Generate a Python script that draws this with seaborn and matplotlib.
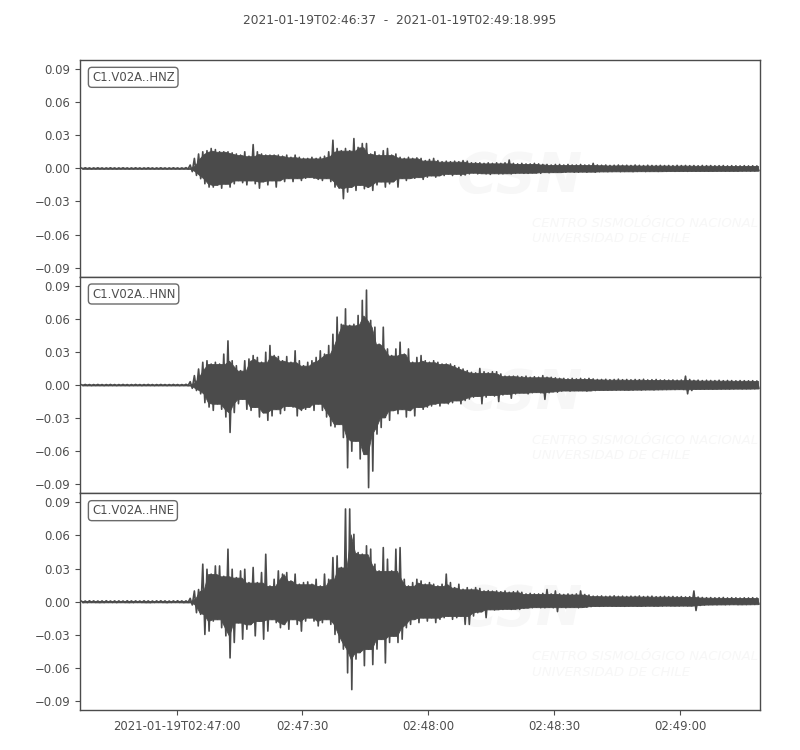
import numpy as np
import pandas as pd
import matplotlib
matplotlib.use("Agg")
import matplotlib.pyplot as plt
import seaborn as sns

# ---------------- data (values in units of 0.001, one min/max pair per second from 02:46:37) --------------
TITLE = "2021-01-19T02:46:37  -  2021-01-19T02:49:18.995"
CHANNELS = ["C1.V02A..HNZ", "C1.V02A..HNN", "C1.V02A..HNE"]
UNIT_SCALE = 0.001

HNZ_MAX = [0.4, 0.5, 0.4, 0.4, 0.5, 0.4, 0.4, 0.5, 0.4, 0.4,
           0.5, 0.4, 0.4, 0.5, 0.4, 0.4, 0.5, 0.4, 0.4, 0.5,
           0.4, 0.4, 0.5, 0.4, 0.4, 0.6, 3, 9, 13, 15,
           16, 18, 17, 15, 15, 15, 14, 13, 12, 15,
           11, 21.5, 15, 13, 12, 12, 12, 12, 11, 12,
           10, 12, 10, 9, 9, 10, 9, 10, 11, 15,
           25.5, 18, 16, 18, 16, 27, 19, 22.5, 22.5, 13,
           15, 12, 16, 18, 12, 13, 10, 9, 10, 9,
           9.5, 9, 7, 8, 9, 7, 6, 6.5, 6, 6.5,
           6, 7, 6.5, 5, 5, 5, 4.5, 5, 4.5, 5,
           4.5, 5, 7.5, 4.5, 4, 4.5, 4, 4, 4.5, 4,
           3.5, 3.5, 3, 3.5, 3.5, 3, 3.5, 3, 3, 3.5,
           3, 3, 4.5, 3, 2.8, 3, 2.6, 2.8, 3, 2.7,
           2.8, 2.6, 3, 2.7, 2.5, 2.8, 2.6, 2.5, 2.7, 2.5,
           2.6, 2.4, 2.7, 2.5, 2.6, 2.4, 2.5, 2.3, 2.6, 2.4,
           2.5, 2.3, 2.4, 2.5, 2.2, 2.4, 2.3, 2.2, 2.4, 2.2,
           2.3, 2.2]
HNZ_MIN = [-0.4, -0.4, -0.5, -0.4, -0.4, -0.5, -0.4, -0.4, -0.5, -0.4,
           -0.4, -0.5, -0.4, -0.4, -0.5, -0.4, -0.4, -0.5, -0.4, -0.4,
           -0.5, -0.4, -0.4, -0.5, -0.4, -0.6, -3, -6.4, -9.4, -14,
           -17, -17, -15, -18, -14, -17, -14, -11, -13, -15,
           -11, -14, -18, -12, -15, -11, -17, -11, -12, -9,
           -12, -9, -11, -9, -8, -9, -10, -11, -9, -12,
           -17, -18, -27.5, -21.5, -17, -20, -15, -18.5, -17, -20,
           -15, -12, -17, -14, -12, -17, -9, -11, -9, -9,
           -8, -10, -8, -6.5, -8, -6.5, -6.5, -5, -6.5, -5,
           -6.5, -6, -5, -4, -5, -4.5, -5, -5.5, -4.5, -5,
           -5, -4.5, -5, -4.5, -4, -4.5, -4.5, -4, -4, -4.5,
           -3.5, -4, -3.5, -3.5, -3.5, -3.5, -3, -3.5, -3.5, -3,
           -3.5, -3, -3.5, -3, -2.8, -3, -2.9, -2.7, -3, -2.8,
           -2.7, -3, -2.8, -2.6, -2.9, -2.7, -2.6, -2.8, -2.6, -2.7,
           -2.5, -2.7, -2.6, -2.5, -2.7, -2.4, -2.6, -2.5, -2.4, -2.6,
           -2.4, -2.5, -2.3, -2.5, -2.4, -2.3, -2.5, -2.3, -2.2, -2.4,
           -2.3, -2.2]

HNN_MAX = [0.4, 0.5, 0.4, 0.4, 0.5, 0.4, 0.4, 0.5, 0.4, 0.4,
           0.5, 0.4, 0.4, 0.5, 0.4, 0.4, 0.5, 0.4, 0.4, 0.5,
           0.4, 0.4, 0.5, 0.4, 0.4, 0.6, 3, 8.5, 14.5, 20.6,
           22, 19, 20.6, 19, 28, 40, 22, 17.5, 13, 22,
           23.6, 26.7, 25, 20.6, 29.7, 35.8, 26.7, 25.8, 22, 25.8,
           20.6, 31, 22, 17.5, 20.6, 22, 25, 31, 28, 35.8,
           46, 61.5, 55, 69, 54, 55, 63, 76.7, 86, 58.5,
           52.4, 37, 52.4, 32.7, 26.7, 32.7, 38.8, 28, 32.7, 20.6,
           25, 26.7, 22, 20.6, 22, 20.6, 19, 19, 19, 17.5,
           16, 14.5, 13, 11.5, 11, 15, 12, 11, 12, 12,
           10, 8, 8, 8, 8, 7.5, 8, 7, 7.5, 7,
           8.5, 7, 7, 6.5, 6, 6, 5.5, 6, 5.5, 6,
           5.5, 6, 5.5, 5, 5, 5.2, 4.8, 5, 5.3, 4.8,
           5, 4.7, 5, 4.8, 5.2, 4.6, 4.8, 5, 4.5, 4.6,
           4.4, 4.6, 4.3, 4.5, 8, 5, 4.2, 4.4, 4, 4.3,
           4.1, 4, 4.3, 3.9, 4.1, 4, 3.8, 4, 3.9, 3.8,
           3.9, 3.7]
HNN_MIN = [-0.4, -0.4, -0.5, -0.4, -0.4, -0.5, -0.4, -0.4, -0.5, -0.4,
           -0.4, -0.5, -0.4, -0.4, -0.5, -0.4, -0.4, -0.5, -0.4, -0.4,
           -0.5, -0.4, -0.4, -0.5, -0.4, -0.6, -3, -5, -8, -16,
           -20, -23, -17, -22, -29, -43, -25, -17, -12.7, -22,
           -23, -20, -29, -25, -32, -28, -22, -26, -23, -19,
           -20, -28, -23, -22, -20, -23, -17, -23, -29, -37,
           -38, -35.5, -47.6, -75, -60, -50.6, -67, -62.7, -93, -78,
           -44.5, -38.5, -29.4, -32, -23, -26, -22, -29, -23, -28,
           -20, -22, -20, -19, -17, -19, -16, -17, -16, -14,
           -17, -14, -12.7, -11, -10, -17, -11, -9, -10, -15,
           -9, -8, -12, -8, -7, -7, -8, -7, -6.5, -7,
           -13, -7, -6, -6.5, -5.5, -5, -5.5, -5, -5, -5,
           -5.5, -5, -5, -4.5, -4.5, -4.7, -4.4, -4.6, -4.3, -4.5,
           -4.4, -4.6, -4.2, -4.5, -4.3, -4.1, -4.4, -4.2, -4, -4.1,
           -3.9, -4.1, -3.8, -4, -8, -5, -3.8, -3.6, -3.8, -3.5,
           -3.7, -3.5, -3.6, -3.4, -3.6, -3.5, -3.3, -3.5, -3.4, -3.3,
           -3.4, -3.2]

HNE_MAX = [0.7, 0.6, 0.8, 0.7, 0.6, 0.7, 0.8, 0.6, 0.7, 0.7,
           0.6, 0.8, 0.7, 0.7, 0.6, 0.8, 0.7, 0.6, 0.7, 0.8,
           0.7, 0.6, 0.7, 0.8, 0.7, 0.7, 3, 9.7, 11, 34,
           29.4, 25, 32.4, 32.4, 23, 47.6, 29.4, 21.8, 27.9, 29.4,
           17.3, 31, 17.3, 26.4, 43, 14.2, 20.3, 27.9, 25, 26.4,
           18.8, 25, 15.8, 17.3, 17.9, 15.8, 20.3, 14.2, 25, 20.3,
           40, 41.5, 31, 84, 84, 61, 44.5, 43, 50.6, 47.6,
           34, 27.9, 49, 38.5, 27.9, 47.6, 49, 20.3, 14.2, 17.3,
           20.3, 18.8, 15.8, 17.3, 15.8, 14.2, 15.8, 25, 17.3, 12.7,
           15.8, 11.2, 12.7, 11.2, 12.7, 12, 9.7, 10, 9.5, 9.7,
           9, 9.7, 8.5, 9, 9.5, 8.5, 7, 7.5, 7, 7,
           7.5, 11, 7, 9.7, 7, 6.5, 7, 6.5, 7, 9.7,
           6.5, 6, 5, 5, 5.2, 4.8, 5, 5.3, 4.8, 5,
           4.7, 5, 4.8, 5.2, 4.6, 4.8, 5, 4.5, 4.6, 4.8,
           4.5, 4.7, 4.4, 4.6, 4.3, 4.5, 9.7, 4.2, 3.8, 3.6,
           3.7, 3.5, 3.6, 3.8, 3.4, 3.6, 3.5, 3.3, 3.5, 3.4,
           3.6, 3.3]
HNE_MIN = [-0.7, -0.8, -0.6, -0.7, -0.7, -0.8, -0.6, -0.7, -0.8, -0.6,
           -0.7, -0.7, -0.8, -0.6, -0.7, -0.7, -0.8, -0.7, -0.6, -0.7,
           -0.8, -0.7, -0.6, -0.7, -0.8, -0.7, -3, -10, -11.5, -29.7,
           -26.7, -17.6, -16, -23.6, -31, -51, -37, -19, -34, -25,
           -20.6, -31, -17.6, -34, -26.7, -16, -19, -23.6, -20.6, -25,
           -16, -20.6, -26.7, -17.6, -14.5, -17.6, -22, -19, -16, -20.6,
           -29.7, -37, -43, -64.5, -79.7, -52, -46, -58, -43, -57,
           -43, -34, -55.5, -37, -31, -37, -34, -23.6, -20.6, -16,
           -19, -14.5, -17.6, -14.5, -19, -16, -14.5, -13, -16, -14.5,
           -13, -20.6, -20.6, -13, -10, -9, -14.5, -7, -7.5, -7,
           -7, -6.5, -7, -6.5, -7, -6, -5.5, -5.5, -5, -5.5,
           -5.5, -5, -5.5, -9, -5, -5.5, -5, -5, -5.5, -5,
           -5, -4.5, -4, -4.2, -4, -3.8, -4.1, -4, -3.9, -4.2,
           -4, -3.8, -4.1, -3.9, -4, -3.7, -4, -3.8, -3.9, -3.6,
           -3.8, -3.7, -3.9, -3.6, -3.8, -3.7, -8, -3.4, -3, -2.7,
           -2.6, -2.8, -2.5, -2.7, -2.6, -2.4, -2.7, -2.5, -2.6, -2.4,
           -2.5, -2.3]

TRACE_MAX = [HNZ_MAX, HNN_MAX, HNE_MAX]
TRACE_MIN = [HNZ_MIN, HNN_MIN, HNE_MIN]

XTICK_SECONDS = [23, 53, 83, 113, 143]
XTICK_LABELS = ["2021-01-19T02:47:00", "02:47:30", "02:48:00", "02:48:30", "02:49:00"]
YTICKS = [-0.09, -0.06, -0.03, 0.0, 0.03, 0.06, 0.09]
YTICK_LABELS = ["\u22120.09", "\u22120.06", "\u22120.03", "0.00", "0.03", "0.06", "0.09"]
DURATION = 161.995
YLIM = 0.0982

# ---------------- styling ----------------
sns.set_theme(style="ticks")
plt.rcParams["font.family"] = ["DejaVu Sans"]
DARK = "#4b4b4b"
TXT = "#4d4d4d"
FS = 8.4

fig = plt.figure(figsize=(8, 7.5), dpi=100)
left, width = 0.10, 0.85
top, bottom = 0.92, 1 - 710 / 750
h = (top - bottom) / 3

fig.text(0.5, 1 - 20 / 750, TITLE, ha="center", va="center", fontsize=8.8, color=TXT)

for k in range(3):
    ax = fig.add_axes([left, top - (k + 1) * h, width, h])
    mx = np.asarray(TRACE_MAX[k]) * UNIT_SCALE
    mn = np.asarray(TRACE_MIN[k]) * UNIT_SCALE
    sec = np.arange(len(mx), dtype=float)

    # dense body of the trace: the part of each second's range shared with its neighbours
    pad_mx = np.concatenate([[mx[0]], mx, [mx[-1]]])
    pad_mn = np.concatenate([[mn[0]], mn, [mn[-1]]])
    core_up = np.minimum(np.minimum(pad_mx[:-2], pad_mx[1:-1]), pad_mx[2:])
    core_dn = np.maximum(np.maximum(pad_mn[:-2], pad_mn[1:-1]), pad_mn[2:])
    ax.fill_between(np.clip(sec + 0.5, 0, DURATION), core_dn, core_up,
                    color=DARK, lw=0.6, zorder=2)

    # oscillation: max and min of every second joined in time order
    t = np.empty(2 * len(sec))
    v = np.empty(2 * len(sec))
    t[0::2] = sec + 0.25
    t[1::2] = sec + 0.75
    v[0::2] = mx
    v[1::2] = mn
    t = np.clip(t, 0, DURATION)
    df = pd.DataFrame({"t": t, "v": v})
    sns.lineplot(data=df, x="t", y="v", ax=ax, color=DARK, lw=1.2,
                 estimator=None, sort=False, zorder=3)

    # faint watermark
    ax.text(0.555, 0.46, "CSN", transform=ax.transAxes, fontsize=40, fontweight="bold",
            style="italic", color="#f7f7f7", ha="left", va="center", zorder=0)
    ax.text(0.665, 0.21, "CENTRO SISMOLÓGICO NACIONAL\nUNIVERSIDAD DE CHILE",
            transform=ax.transAxes, fontsize=9.5, style="italic", color="#f7f7f7",
            ha="left", va="center", linespacing=1.25, zorder=0)

    ax.set_xlim(0, DURATION)
    ax.set_ylim(-YLIM, YLIM)
    ax.set_yticks(YTICKS)
    ax.set_yticklabels(YTICK_LABELS)
    ax.set_xticks(XTICK_SECONDS)
    if k == 2:
        ax.set_xticklabels(XTICK_LABELS)
    else:
        ax.set_xticklabels([])
        ax.tick_params(axis="x", length=0)
    ax.set_xlabel("")
    ax.set_ylabel("")
    ax.tick_params(labelsize=FS, colors=TXT, length=3.5, width=0.8)
    for s in ax.spines.values():
        s.set_visible(True)
        s.set_color(DARK)
        s.set_linewidth(1.0)
    ax.text(0.0175, 0.92, CHANNELS[k], transform=ax.transAxes, fontsize=FS, color=TXT,
            ha="left", va="center", zorder=5,
            bbox=dict(boxstyle="round,pad=0.3", fc="white", ec="#6a6a6a", lw=1.0))

fig.savefig("out.png", dpi=100)
